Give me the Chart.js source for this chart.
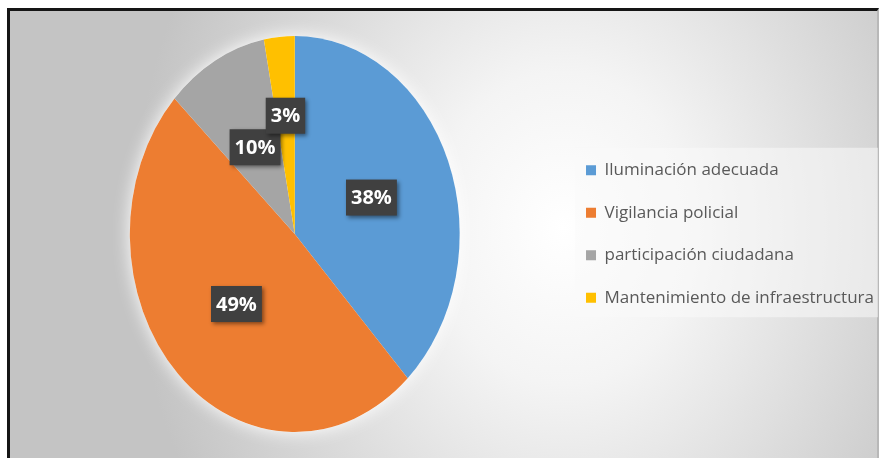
<!DOCTYPE html>
<html>
<head>
<meta charset="utf-8">
<script src="https://cdn.jsdelivr.net/npm/chart.js@4.4.1/dist/chart.umd.min.js"></script>
<style>
  html, body { margin: 0; padding: 0; background: #fff; }
  #wrap { position: relative; width: 882px; height: 458px; overflow: hidden; }
  #frame {
    position: absolute; left: 7px; top: 8px; width: 872px; height: 470px;
    box-sizing: border-box;
    border-left: 3px solid #151515; border-top: 3px solid #151515; border-right: 2px solid #b8b8b8;
    background: radial-gradient(ellipse 430px 520px at 553px 217px, #ffffff 0%, #f4f4f4 30%, #c4c4c4 100%);
  }
  #chart { position: absolute; left: 0; top: 0; }
</style>
</head>
<body>
<div id="wrap">
  <div id="frame"></div>
  <canvas id="chart" width="882" height="458"></canvas>
</div>
<script>
var categories = [
  'Iluminación adecuada',
  'Vigilancia policial',
  'participación ciudadana',
  'Mantenimiento de infraestructura'
];
var percentages = [38, 49, 10, 3];
var sliceColors = ['#5B9BD5', '#ED7D31', '#A5A5A5', '#FFC000'];

// the pie is drawn squeezed sideways into an ellipse
var squash = 0.833;
// how far out (share of radius) each value badge sits
var labelReach = [0.5, 0.5, 0.5, 0.6];

Chart.defaults.font.family = '"Open Sans", sans-serif';

var legendPanel = {
  id: 'legendPanel',
  beforeDraw: function(chart) {
    var boxes = chart.legend.legendHitBoxes;
    if (!boxes.length) return;
    var ctx = chart.ctx;
    var last = boxes[boxes.length - 1];
    var top = boxes[0].top - 14;
    var bottom = last.top + last.height + 11;
    var left = boxes[0].left - 11;
    ctx.save();
    ctx.fillStyle = 'rgba(250,250,250,0.55)';
    ctx.fillRect(left, top, 878 - left, bottom - top);
    ctx.restore();
  }
};

var pieShape = {
  id: 'pieShape',
  beforeDatasetsDraw: function(chart) {
    var ctx = chart.ctx;
    var arc = chart.getDatasetMeta(0).data[0];
    ctx.save();
    ctx.translate(arc.x, arc.y);
    ctx.scale(squash, 1);
    ctx.translate(-arc.x, -arc.y);
    // white halo behind the pie
    ctx.save();
    ctx.shadowColor = 'rgba(255,255,255,1)';
    ctx.shadowBlur = 18;
    ctx.fillStyle = '#ffffff';
    ctx.beginPath();
    ctx.arc(arc.x, arc.y, arc.outerRadius, 0, Math.PI * 2);
    ctx.fill();
    ctx.restore();
  },
  afterDatasetsDraw: function(chart) {
    var ctx = chart.ctx;
    ctx.restore();
    var meta = chart.getDatasetMeta(0);
    ctx.save();
    ctx.font = 'bold 20px "Open Sans"';
    ctx.textAlign = 'center';
    ctx.textBaseline = 'middle';
    meta.data.forEach(function(arc, i) {
      var mid = (arc.startAngle + arc.endAngle) / 2;
      var r = arc.outerRadius * labelReach[i];
      var x = arc.x + Math.cos(mid) * r * squash;
      var y = arc.y + Math.sin(mid) * r;
      var text = chart.data.datasets[0].data[i] + '%';
      var w = ctx.measureText(text).width + 10;
      var h = 36;
      ctx.save();
      ctx.shadowColor = 'rgba(0,0,0,0.45)';
      ctx.shadowBlur = 4;
      ctx.shadowOffsetX = 2;
      ctx.shadowOffsetY = 2;
      ctx.fillStyle = '#404040';
      ctx.fillRect(x - w / 2, y - h / 2, w, h);
      ctx.restore();
      ctx.fillStyle = '#ffffff';
      ctx.fillText(text, x, y + 1);
    });
    ctx.restore();
  }
};

var chart = new Chart(document.getElementById('chart'), {
  type: 'pie',
  data: {
    labels: categories,
    datasets: [{
      data: percentages,
      backgroundColor: sliceColors,
      borderWidth: 0
    }]
  },
  options: {
    responsive: false,
    animation: false,
    devicePixelRatio: 1,
    layout: { padding: { left: 29, top: 36, bottom: 26, right: -2 } },
    plugins: {
      tooltip: { enabled: false },
      legend: {
        position: 'right',
        labels: {
          boxWidth: 10,
          boxHeight: 10,
          padding: 25.5,
          color: '#595959',
          font: { size: 17 }
        }
      }
    }
  },
  plugins: [legendPanel, pieShape]
});
</script>
</body>
</html>
